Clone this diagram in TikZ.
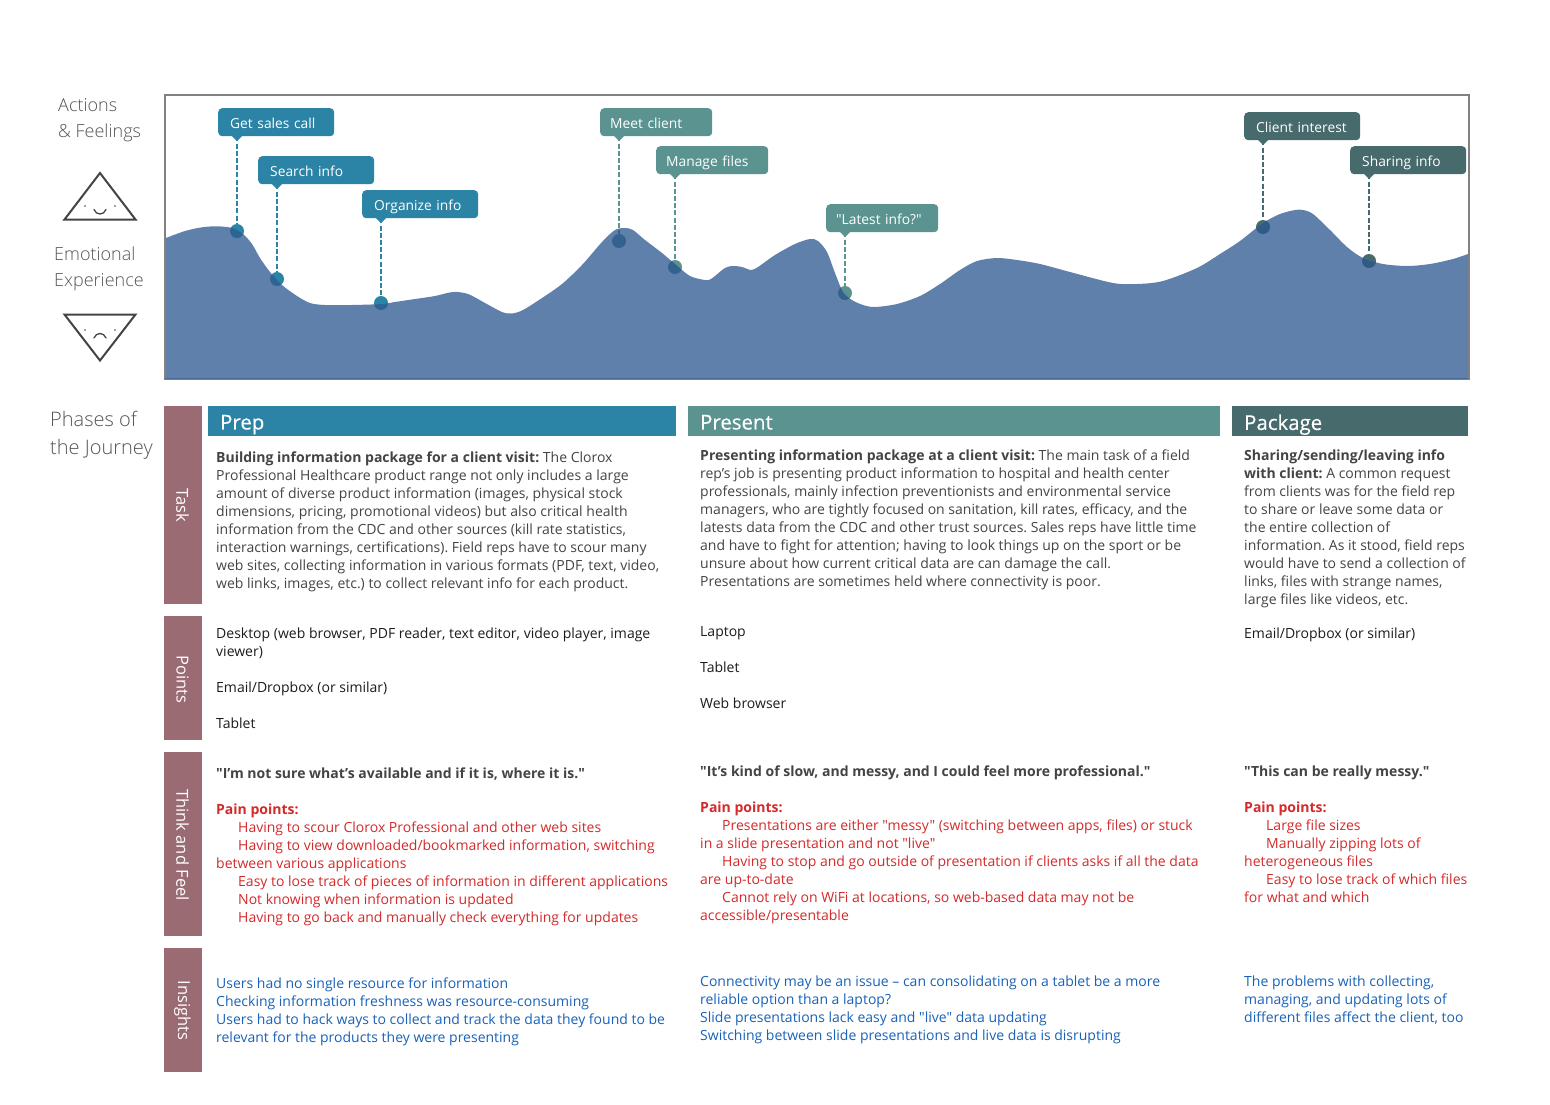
\documentclass[tikz,border=0pt]{standalone}
\usepackage{fontspec}
\newfontfamily\mainf{Open Sans}
\newfontfamily\lightf{Open Sans Light}
\newcommand\fs[2]{\mainf\fontsize{#1}{#2}\selectfont\frenchspacing}
\newcommand\fl[2]{\lightf\fontsize{#1}{#2}\selectfont}
\definecolor{cprep}{HTML}{2B83A6}
\definecolor{cpres}{HTML}{5B9390}
\definecolor{cpack}{HTML}{476A6D}
\definecolor{dprep}{HTML}{2A6594}
\definecolor{dpres}{HTML}{34628F}
\definecolor{dpack}{HTML}{305A87}
\definecolor{area}{HTML}{6080AC}
\definecolor{areaedge}{HTML}{4A6A96}
\definecolor{frame}{HTML}{857F80}
\definecolor{side}{HTML}{9A6B72}
\definecolor{ink}{HTML}{444444}
\definecolor{ptxt}{HTML}{1C1C1C}
\definecolor{redt}{HTML}{D42A2A}
\definecolor{bluet}{HTML}{1A62B8}
\definecolor{lab}{HTML}{555555}
\tikzset{
 x=1pt,y=-1pt,
 callout/.style={rounded corners=4pt,inner ysep=0pt,inner xsep=#1,minimum height=28pt,anchor=north west,align=left,text=white,text height=14pt,text depth=1pt,font=\fs{13.8}{18}},
 bar/.style={fill=side,minimum width=38pt,anchor=north west,inner sep=0pt},
 sidelab/.style={rotate=-90,text=white,font=\fs{16.5}{18}},
 head/.style={anchor=north west,minimum height=30pt,inner xsep=12pt,inner ysep=0pt,text=white,text depth=0pt,align=left,font={\fs{20.4}{24}\addfontfeature{FakeBold=0.35}}},
 body/.style={anchor=north west,inner sep=0pt,align=left,font=\fs{14}{18},execute at begin node=\strut},
 biglab/.style={anchor=north west,inner sep=0pt,align=left,text=lab,font=\fl{18}{26},execute at begin node=\strut},
 dot/.style={circle,inner sep=0pt,minimum size=14pt},
 link/.style={dash pattern=on 5pt off 2.2pt,line width=2pt},
 face/.style={draw=ink,line width=2pt,line join=miter},
 mouth/.style={draw=ink,line width=1.3pt,line cap=round},
}
\def\curve{(166,238) (185,231) (202,227.3) (217,226.3) (232,228) (243,234) (252,244) (260,258) (270,272) (282,285) (297,296) (310,303) (325,305) (352,305) (382,304) (395,302) (415,299) (435,296) (453,292) (468,294) (485,303) (502,312) (512,313.5) (523,310) (542,298) (562,284) (582,265) (602,242) (615,230) (625,228) (633,230) (645,240) (662,253) (675,264) (690,276) (705,280) (711,279) (725,268) (733,266) (742,267) (751,270) (758,267) (775,255) (795,244) (810,239) (818,241) (827,252) (835,273) (843,292) (852,300) (863,305) (875,307) (897,304) (920,296) (940,284) (960,270) (977,261) (997,258) (1017,260) (1040,264) (1070,272) (1113,283) (1137,284) (1163,281) (1197,268) (1220,254) (1240,241) (1263,223) (1280,214) (1295,210) (1303,210) (1313,214) (1330,230) (1347,247) (1363,258) (1383,264) (1407,266) (1430,264) (1453,259) (1468,254)}
\def\areapath{(166,378) -- plot[smooth,tension=0.5] coordinates {\curve} -- (1468,378) -- cycle}
\begin{document}
\begin{tikzpicture}
\useasboundingbox (0,0) rectangle (1550,1104);
\fill[white] (0,0) rectangle (1550,1104);
% frame
\draw[frame,line width=2pt] (165,95) rectangle (1469,379);
% callouts
\node[callout=12pt,fill=cprep,text width=92pt] (c1) at (218,108) {Get sales call};
\node[callout=12pt,fill=cprep,text width=92pt] (c2) at (258,156) {Search info};
\node[callout=12pt,fill=cprep,text width=92pt] (c3) at (362,190) {Organize info};
\node[callout=10pt,fill=cpres,text width=92pt] (c4) at (600,108) {Meet client};
\node[callout=10pt,fill=cpres,text width=92pt] (c5) at (656,146) {Manage files};
\node[callout=10pt,fill=cpres,text width=92pt] (c6) at (826,204) {"Latest info?"};
\node[callout=12pt,fill=cpack,text width=92pt] (c7) at (1244,112) {Client interest};
\node[callout=12pt,fill=cpack,text width=92pt] (c8) at (1350,146) {Sharing info};
% dots
\node[dot,fill=cprep] (d1) at (237,231) {};
\node[dot,fill=cprep] (d2) at (277,279) {};
\node[dot,fill=cprep] (d3) at (381,303) {};
\node[dot,fill=cpres] (d4) at (619,241) {};
\node[dot,fill=cpres] (d5) at (675,267) {};
\node[dot,fill=cpres] (d6) at (845,293) {};
\node[dot,fill=cpack] (d7) at (1263,227) {};
\node[dot,fill=cpack] (d8) at (1369,261) {};
% tips
\fill[cprep] (232,136) -- (242,136) -- (237,141) -- cycle;
\fill[cprep] (272,184) -- (282,184) -- (277,189) -- cycle;
\fill[cprep] (376,218) -- (386,218) -- (381,223) -- cycle;
\fill[cpres] (614,136) -- (624,136) -- (619,141) -- cycle;
\fill[cpres] (670,174) -- (680,174) -- (675,179) -- cycle;
\fill[cpres] (840,232) -- (850,232) -- (845,237) -- cycle;
\fill[cpack] (1258,140) -- (1268,140) -- (1263,145) -- cycle;
\fill[cpack] (1364,174) -- (1374,174) -- (1369,179) -- cycle;
% connectors
\draw[link,cprep] (c1.south west -| d1) -- (d1);
\draw[link,cprep] (c2.south west -| d2) -- (d2);
\draw[link,cprep] (c3.south west -| d3) -- (d3);
\draw[link,cpres] (c4.south west -| d4) -- (d4);
\draw[link,cpres] (c5.south west -| d5) -- (d5);
\draw[link,cpres] (c6.south west -| d6) -- (d6);
\draw[link,cpack] (c7.south west -| d7) -- (d7);
\draw[link,cpack] (c8.south west -| d8) -- (d8);
% area
\fill[area] \areapath;
\begin{scope}
\clip \areapath;
\fill[dprep] (d1) circle (7pt) (d2) circle (7pt) (d3) circle (7pt);
\fill[dpres] (d4) circle (7pt) (d5) circle (7pt) (d6) circle (7pt);
\fill[dpack] (d7) circle (7pt) (d8) circle (7pt);
\draw[link,dpres] (c4.south west -| d4) -- (d4);
\end{scope}
\draw[areaedge,line width=1pt] (165,378.5) -- (1468,378.5);
% left labels
\node[biglab] (l1) at (58,98.6) {Actions\\\& Feelings};
\node[biglab] (l2) at (54,246.6) {Emotional\\Experience};
\node[biglab,font=\fl{20}{28}] (l3) at (50,411) {Phases of\\the Journey};
% faces
\draw[face] (100,173) -- (135.5,219.5) -- (64.5,219.5) -- cycle;
\fill[ink] (85,206) circle (0.9pt) (115,206) circle (0.9pt);
\draw[mouth] (94,209.5) .. controls (96,215.5) and (104,215.5) .. (106,209.5);
\draw[face] (64.5,314.5) -- (135.5,314.5) -- (100,360.5) -- cycle;
\fill[ink] (85,330) circle (0.9pt) (115,330) circle (0.9pt);
\draw[mouth] (94,338) .. controls (96,332) and (104,332) .. (106,338);
% side bars
\node[bar,minimum height=198pt] (b1) at (164,406) {};
\node[bar,minimum height=124pt] (b2) at (164,616) {};
\node[bar,minimum height=184pt] (b3) at (164,752) {};
\node[bar,minimum height=124pt] (b4) at (164,948) {};
\node[sidelab] at (182.5,505) {Task};
\node[sidelab] at (182.5,679.5) {Points};
\node[sidelab] at (182.5,845) {Think and Feel};
\node[sidelab] at (182.5,1010.5) {Insights};
% headers
\node[head,fill=cprep,text width=444pt] (h1) at (208,406) {\raisebox{-2pt}{Prep}};
\node[head,fill=cpres,text width=508pt] (h2) at (688,406) {\raisebox{-2pt}{Present}};
\node[head,fill=cpack,text width=212pt] (h3) at (1232,406) {\raisebox{-2pt}{Package}};
% task
\node[body,text=ink] (t1) at (216,451.4) {\textbf{Building information package for a client visit:} The Clorox\\Professional Healthcare product range not only includes a large\\amount of diverse product information (images, physical stock\\dimensions, pricing, promotional videos) but also critical health\\information from the CDC and other sources (kill rate statistics,\\interaction warnings, certifications). Field reps have to scour many\\web sites, collecting information in various formats (PDF, text, video,\\web links, images, etc.) to collect relevant info for each product.};
\node[body,text=ink] (t2) at (700,449.4) {\textbf{Presenting information package at a client visit:} The main task of a field\\rep’s job is presenting product information to hospital and health center\\professionals, mainly infection preventionists and environmental service\\managers, who are tightly focused on sanitation, kill rates, efficacy, and the\\latests data from the CDC and other trust sources. Sales reps have little time\\and have to fight for attention; having to look things up on the sport or be\\unsure about how current critical data are can damage the call.\\Presentations are sometimes held where connectivity is poor.};
\node[body,text=ink] (t3) at (1244,449.4) {\textbf{Sharing/sending/leaving info}\\\textbf{with client:} A common request\\from clients was for the field rep\\to share or leave some data or\\the entire collection of\\information. As it stood, field reps\\would have to send a collection of\\links, files with strange names,\\large files like videos, etc.};
% points
\node[body,text=ptxt] (p1) at (216,627.4) {Desktop (web browser, PDF reader, text editor, video player, image\\viewer)\\[18pt]Email/Dropbox (or similar)\\[18pt]Tablet};
\node[body,text=ptxt] (p2) at (700,625.9) {Laptop\\[18pt]Tablet\\[18pt]Web browser};
\node[body,text=ptxt] (p3) at (1244,625.4) {Email/Dropbox (or similar)};
% think
\node[body,text=ink] (q1) at (216,765.4) {\textbf{"I’m not sure what’s available and if it is, where it is."}};
\node[body,text=ink] (q2) at (700,763.4) {\textbf{"It’s kind of slow, and messy, and I could feel more professional."}};
\node[body,text=ink] (q3) at (1244,763.4) {\textbf{"This can be really messy."}};
\node[body,text=redt] (r1) at (216,803.4) {\textbf{Pain points:}\\\hspace*{22pt}Having to scour Clorox Professional and other web sites\\\hspace*{22pt}Having to view downloaded/bookmarked information, switching\\between various applications\\\hspace*{22pt}Easy to lose track of pieces of information in different applications\\\hspace*{22pt}Not knowing when information is updated\\\hspace*{22pt}Having to go back and manually check everything for updates};
\node[body,text=redt] (r2) at (700,801.4) {\textbf{Pain points:}\\\hspace*{22pt}Presentations are either "messy" (switching between apps, files) or stuck\\in a slide presentation and not "live"\\\hspace*{22pt}Having to stop and go outside of presentation if clients asks if all the data\\are up-to-date\\\hspace*{22pt}Cannot rely on WiFi at locations, so web-based data may not be\\accessible/presentable};
\node[body,text=redt] (r3) at (1244,801.4) {\textbf{Pain points:}\\\hspace*{22pt}Large file sizes\\\hspace*{22pt}Manually zipping lots of\\heterogeneous files\\\hspace*{22pt}Easy to lose track of which files\\for what and which};
% insights
\node[body,text=bluet] (i1) at (216,977.4) {Users had no single resource for information\\Checking information freshness was resource-consuming\\Users had to hack ways to collect and track the data they found to be\\relevant for the products they were presenting};
\node[body,text=bluet] (i2) at (700,975.4) {Connectivity may be an issue – can consolidating on a tablet be a more\\reliable option than a laptop?\\Slide presentations lack easy and "live" data updating\\Switching between slide presentations and live data is disrupting};
\node[body,text=bluet] (i3) at (1244,975.4) {The problems with collecting,\\managing, and updating lots of\\different files affect the client, too};
\end{tikzpicture}
\end{document}
